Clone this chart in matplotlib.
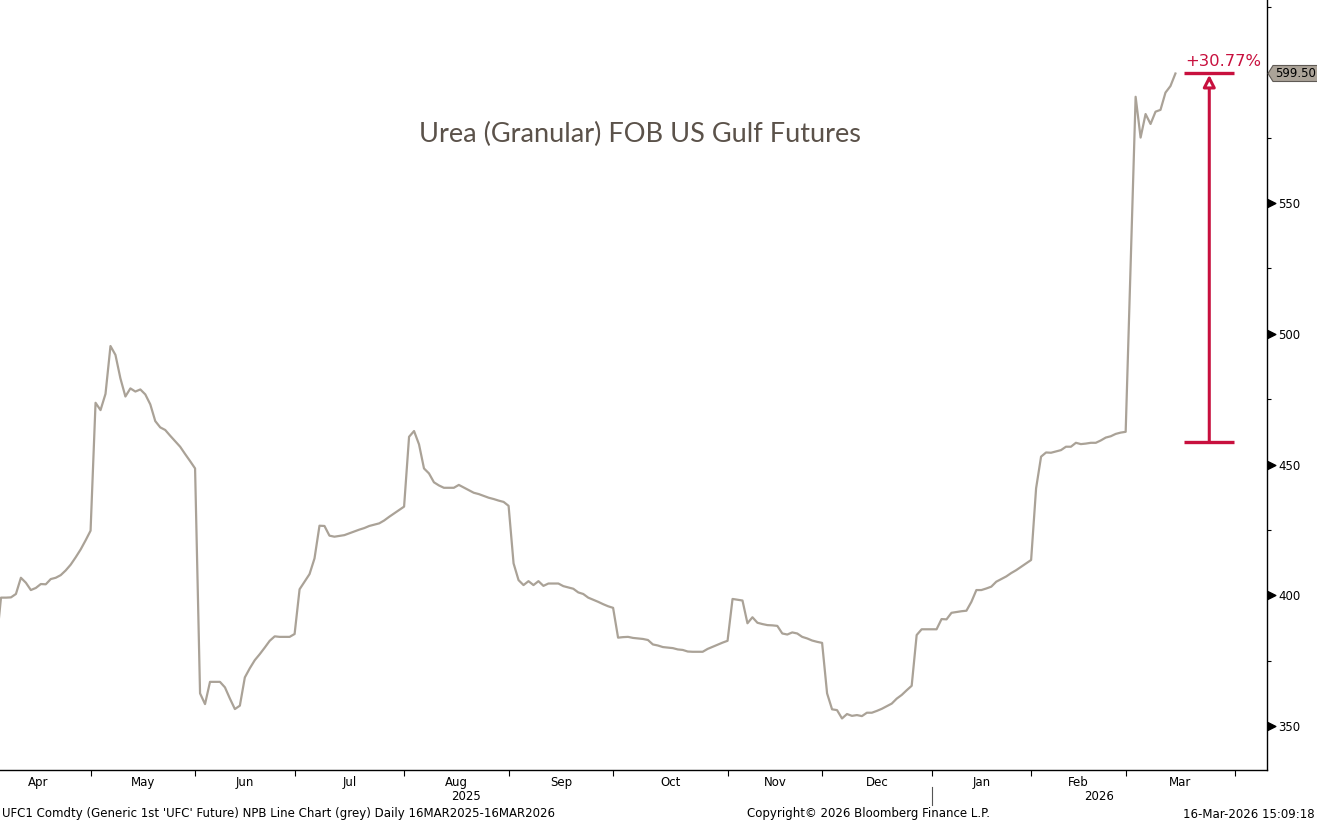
import numpy as np
import pandas as pd
import matplotlib
matplotlib.use("Agg")
import matplotlib.pyplot as plt
from matplotlib.patches import Polygon
from matplotlib.transforms import IdentityTransform
from matplotlib.ticker import FixedLocator, FixedFormatter, MultipleLocator, NullFormatter

# CME trading calendar (exchange holidays skipped, like the Bloomberg axis)
HOLIDAYS = ["2025-04-18", "2025-05-26", "2025-06-19", "2025-07-04", "2025-09-01",
            "2025-11-27", "2025-12-25", "2026-01-01", "2026-01-19", "2026-02-16",
            "2026-04-03"]

# UFC1 settlement, one value per trading day
apr25 = [380.0, 399.1, 399.1, 399.2, 400.5, 406.7, 404.8, 402.0, 402.8, 404.3,
         404.2, 406.2, 406.7, 407.7, 409.5, 411.7, 414.5, 417.5, 421.0]
may25 = [424.7, 473.6, 470.8, 477.0, 495.3, 491.9, 482.9, 476.0, 479.1, 477.9,
         478.7, 476.8, 473.0, 466.6, 464.2, 463.2, 461.0, 458.9, 456.8, 454.0, 451.3]
jun25 = [448.5, 362.5, 358.4, 366.9, 366.9, 366.9, 364.8, 360.5, 356.5, 357.8,
         368.6, 372.1, 375.2, 377.5, 380.0, 382.6, 384.3, 384.1, 384.1, 384.1]
jul25 = [385.2, 402.3, 405.2, 408.1, 414.1, 426.6, 426.5, 422.8, 422.4, 422.7, 423.0,
         423.7, 424.4, 425.1, 425.7, 426.5, 427.0, 427.5, 428.6, 430.0, 431.3, 432.6]
aug25 = [433.9, 460.6, 462.8, 457.7, 448.5, 446.6, 443.2, 442.0, 441.1, 441.1, 441.1,
         442.2, 441.2, 440.2, 439.2, 438.7, 438.0, 437.3, 436.8, 436.2, 435.7]
sep25 = [434.2, 412.2, 405.8, 403.9, 405.4, 403.9, 405.4, 403.6, 404.5, 404.5, 404.5,
         403.5, 403.0, 402.5, 401.1, 400.5, 399.1, 398.3, 397.5, 396.6, 395.8]
oct25 = [395.2, 383.8, 384.0, 384.1, 383.7, 383.5, 383.3, 382.9, 381.2, 380.8, 380.2,
         380.0, 379.8, 379.3, 379.1, 378.5, 378.4, 378.4, 378.4, 379.5, 380.3, 381.1, 381.9]
nov25 = [382.6, 398.6, 398.3, 398.0, 389.3, 391.6, 389.5, 389.0, 388.6, 388.5,
         388.3, 385.4, 385.0, 385.8, 385.4, 384.1, 383.5, 382.7, 382.2]
dec25 = [381.8, 362.5, 356.4, 356.1, 352.9, 354.6, 353.9, 354.2, 353.8, 355.1, 355.1,
         355.8, 356.6, 357.6, 358.6, 360.5, 361.9, 363.7, 365.4, 384.8, 387.0, 387.0]
jan26 = [387.0, 387.0, 390.9, 390.8, 393.3, 393.6, 393.9, 394.1, 397.5, 402.0,
         402.0, 402.6, 403.3, 405.2, 406.2, 407.2, 408.5, 409.6, 410.9, 412.2]
feb26 = [413.5, 440.9, 453.0, 454.6, 454.5, 455.0, 455.5, 456.8, 456.8, 458.3,
         457.8, 458.0, 458.3, 458.3, 459.2, 460.3, 460.8, 461.7, 462.2]
mar26 = [462.5, 526.0, 590.6, 575.0, 584.0, 580.2, 584.9, 585.6, 592.2, 594.7, 599.5]

price = apr25 + may25 + jun25 + jul25 + aug25 + sep25 + oct25 + nov25 + dec25 + jan26 + feb26 + mar26
base_price = 458.45  # level where the move is measured from

TITLE = "Urea (Granular) FOB US Gulf Futures"
FOOT_LEFT = "UFC1 Comdty (Generic 1st 'UFC' Future) NPB Line Chart (grey) Daily 16MAR2025-16MAR2026"
FOOT_MID = "Copyright\u00a9 2026 Bloomberg Finance L.P."
FOOT_RIGHT = "16-Mar-2026 15:09:18"

LINE_C = "#aaa297"
RED = "#c8103e"

cal = pd.bdate_range("2025-04-01", "2026-04-30", freq="C", holidays=HOLIDAYS)
dates = pd.bdate_range("2025-04-03", "2026-03-16", freq="C", holidays=HOLIDAYS)
n = min(len(dates), len(price))
x = cal.get_indexer(dates[:n])
y = np.array(price[:n])

fig = plt.figure(figsize=(13.17, 8.23), dpi=100)
ax = fig.add_axes([0, 53 / 823, 1267 / 1317, 770 / 823])

ax.plot(x, y, color=LINE_C, lw=1.6, solid_joinstyle="round")

for s in ["left", "top"]:
    ax.spines[s].set_visible(False)
for s in ["right", "bottom"]:
    ax.spines[s].set_linewidth(1.0)
    ax.spines[s].set_color("black")

# x axis: month boundaries as ticks, month names centred in each month
starts = [i for i in range(len(cal)) if i == 0 or cal[i].month != cal[i - 1].month]
ends = starts[1:] + [len(cal)]
centres = [(a + b) / 2 for a, b in zip(starts, ends)]
names = [cal[i].strftime("%b") for i in starts]
ax.xaxis.set_major_locator(FixedLocator(starts))
ax.xaxis.set_major_formatter(NullFormatter())
ax.xaxis.set_minor_locator(FixedLocator(centres))
ax.xaxis.set_minor_formatter(FixedFormatter(names))
ax.tick_params(axis="x", which="major", length=4, width=0.8, direction="out")
ax.tick_params(axis="x", which="minor", length=0, pad=4, labelsize=8.5)

ax.set_xlim(2.8, 257.4)
ax.set_ylim(333.2, 627.6)

jan_pos = cal.get_indexer([pd.Timestamp("2026-01-02")])[0]
xt = ax.get_xaxis_transform()
ax.plot([jan_pos, jan_pos], [-0.022, -0.046], transform=xt, color="#555555", lw=0.8, clip_on=False)
lo, hi = ax.get_xlim()
ax.text((lo + jan_pos) / 2, -0.035, "2025", transform=xt, ha="center", va="center", fontsize=8.5)
ax.text((jan_pos + hi) / 2, -0.035, "2026", transform=xt, ha="center", va="center", fontsize=8.5)

# y axis on the right
yticks = [350, 400, 450, 500, 550]
ax.yaxis.tick_right()
ax.yaxis.set_major_locator(FixedLocator(yticks))
ax.yaxis.set_minor_locator(MultipleLocator(25))
ax.tick_params(axis="y", which="major", length=0, pad=8, labelsize=8.5)
ax.tick_params(axis="y", which="minor", length=3, width=0.8, direction="out")
yt = ax.get_yaxis_transform()
ax.plot([1.0] * len(yticks), yticks, transform=yt, ls="none", color="black",
        marker=[(0, -1), (2, 0), (0, 1)], markersize=12, clip_on=False)
ax.set_xlim(2.8, 257.4)
ax.set_ylim(333.2, 627.6)

# last price tag
last = y[-1]
fig.canvas.draw()
tx, ty = yt.transform((1.0, last))
tag = Polygon([(tx + 1, ty), (tx + 6, ty + 8), (tx + 60, ty + 8), (tx + 60, ty - 8), (tx + 6, ty - 8)],
              closed=True, transform=IdentityTransform(), facecolor="#aba398",
              edgecolor="#5f5a55", lw=0.8, clip_on=False)
fig.add_artist(tag)
fig.text((tx + 8) / fig.bbox.width, ty / fig.bbox.height, f"{last:.2f}",
         ha="left", va="center", fontsize=8.5, color="black")

# % change marker
x_bar = 245.8
ax.hlines([base_price, last], 240.7, 250.7, color=RED, lw=2.4)
ax.annotate("", xy=(x_bar, last), xytext=(x_bar, base_price),
            arrowprops=dict(arrowstyle="-|>,head_length=0.35,head_width=0.18",
                            color=RED, fc="white", lw=2.2, shrinkA=0, shrinkB=1,
                            mutation_scale=20))
pct = (last / base_price - 1) * 100
ax.annotate(f"+{pct:.2f}%", xy=(240.9, last), xytext=(0, 3), textcoords="offset points",
            ha="left", va="bottom", fontsize=11.8, color=RED)

fig.text(640 / 1317, 1 - 134 / 823, TITLE, ha="center", va="center",
         fontsize=19.5, color="#5b524a", family=["Lato", "DejaVu Sans"])

fig.text(2 / 1317, 1 - 814 / 823, FOOT_LEFT, ha="left", va="center", fontsize=8.5)
fig.text(868 / 1317, 1 - 814 / 823, FOOT_MID, ha="center", va="center", fontsize=8.5)
fig.text(1315 / 1317, 1 - 814 / 823, FOOT_RIGHT, ha="right", va="center", fontsize=8.5)

fig.savefig("out.png", dpi=100)
